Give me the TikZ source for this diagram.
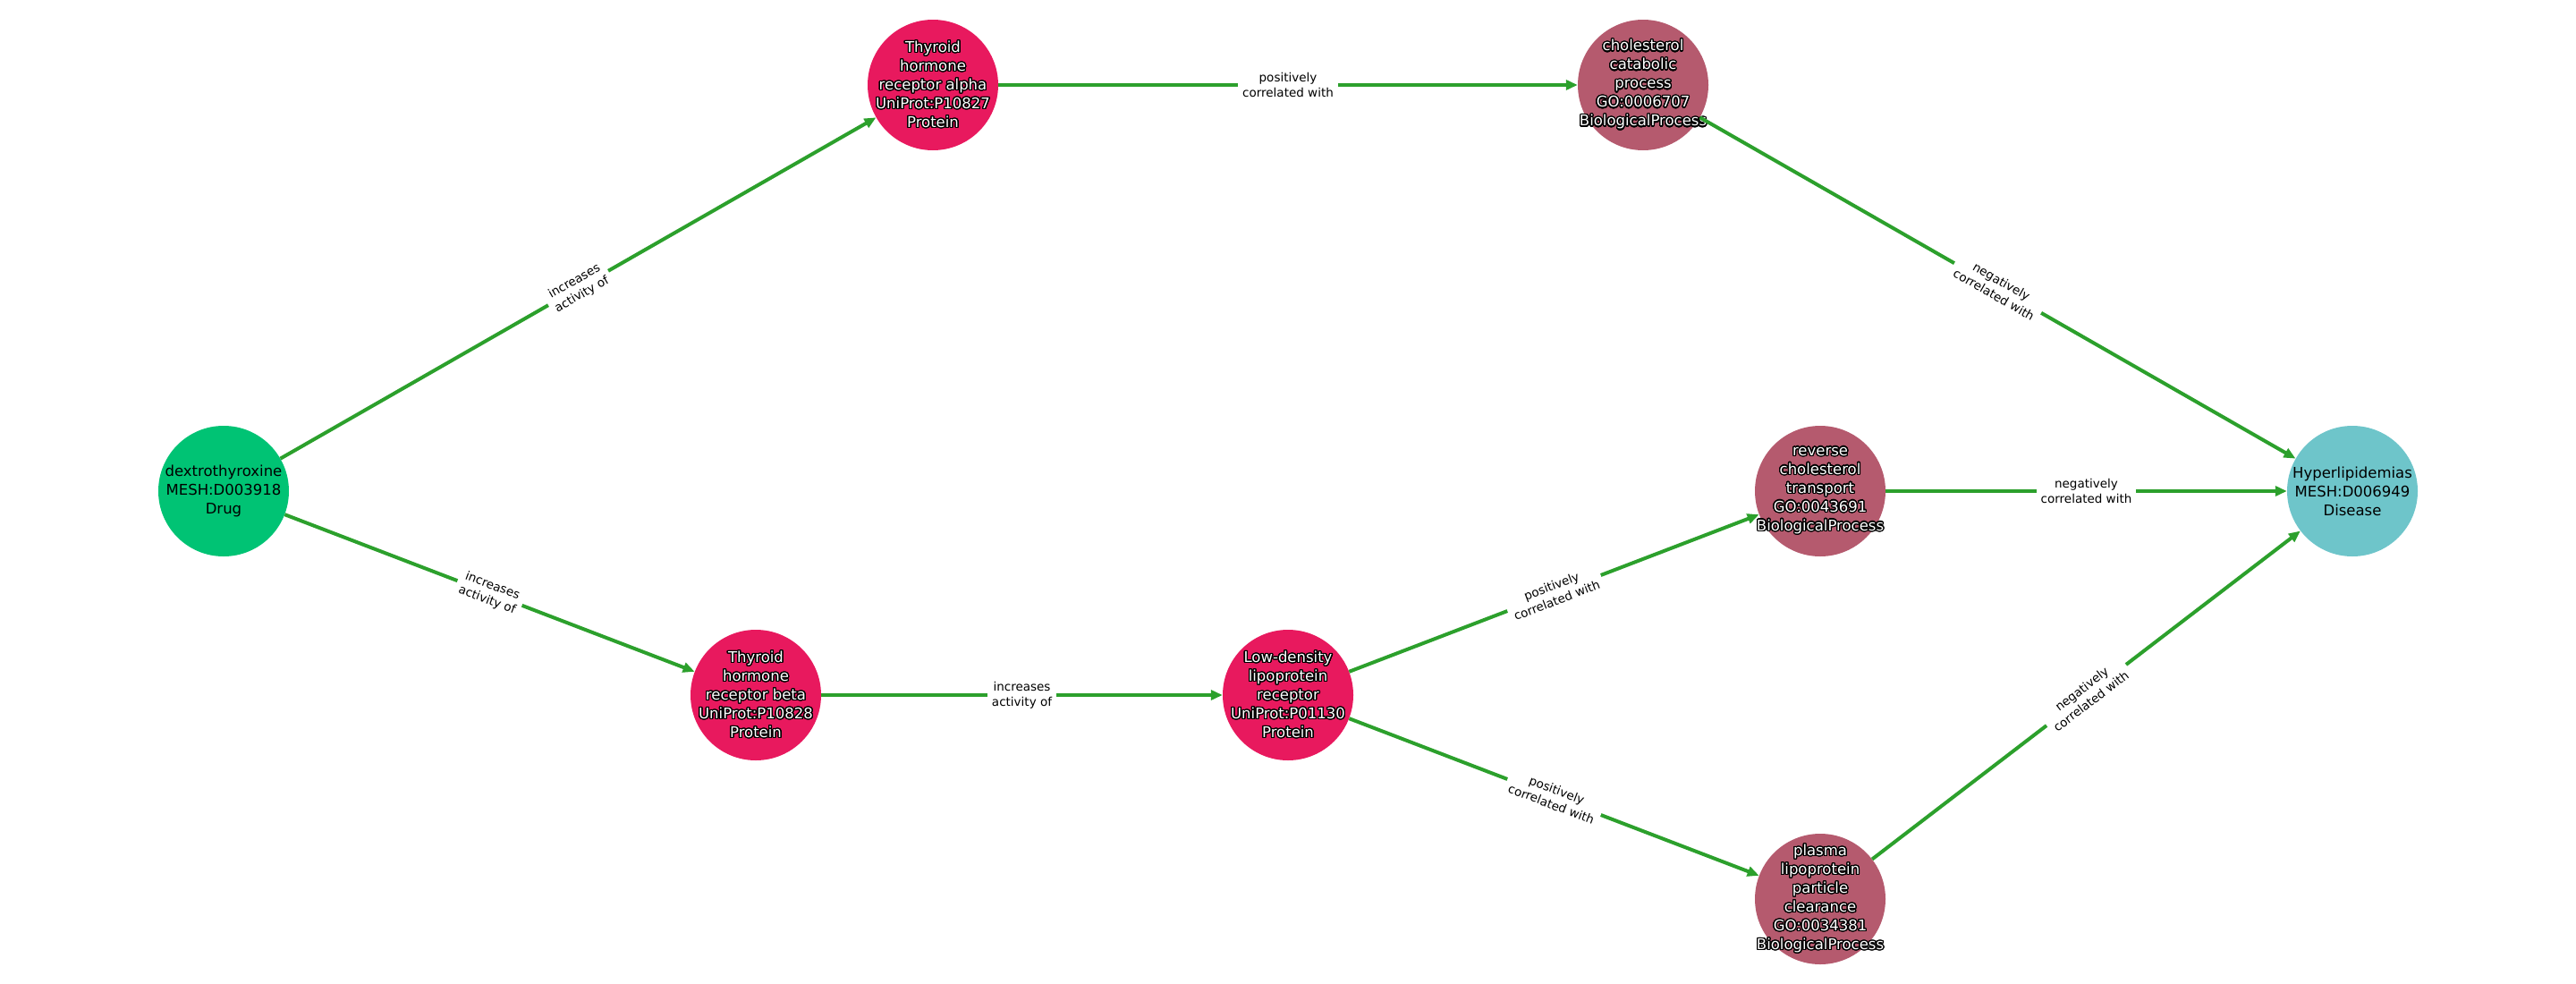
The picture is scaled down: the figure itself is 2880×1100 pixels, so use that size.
\documentclass[tikz,border=0pt]{standalone}
\usepackage{fontspec}
\setmainfont{DejaVu Sans}
\usepackage{contour}
\contourlength{1.3pt}
\contournumber{24}
\usetikzlibrary{arrows.meta}
\definecolor{drugc}{HTML}{00C374}
\definecolor{protc}{HTML}{E8195E}
\definecolor{bioc}{HTML}{B55A6E}
\definecolor{disc}{HTML}{6EC5CA}
\definecolor{edgec}{HTML}{2CA02C}
\newcommand{\olt}[1]{\contour{black}{#1}}
\begin{document}
\begin{tikzpicture}[x=1pt,y=-1pt,
  base/.style={circle, minimum size=146pt, inner sep=0pt},
  ntext/.style={align=center, inner sep=0pt, font=\fontsize{16.5}{21}\selectfont},
  drugnode/.style={base, fill=drugc, label={[ntext, text=black]center:#1}},
  protnode/.style={base, fill=protc, label={[ntext, text=white]center:#1}},
  bionode/.style={base, fill=bioc, label={[ntext, text=white]center:#1}},
  disnode/.style={base, fill=disc, label={[ntext, text=black]center:#1}},
  edge/.style={draw=edgec, line width=4pt, -{Triangle[length=13pt,width=11pt]}},
  lbl/.style={midway, sloped, fill=white, inner xsep=5pt, inner ysep=2pt, align=center, text=black, font=\fontsize{13.5}{17}\selectfont}
]
\useasboundingbox (0,0) rectangle (2880,1100);

\node[drugnode={dextrothyroxine\\MESH:D003918\\Drug}] (dex) at (250,549) {};
\node[protnode={\olt{Thyroid}\\\olt{hormone}\\\olt{receptor alpha}\\\olt{UniProt:P10827}\\\olt{Protein}}] (tra) at (1043,95) {};
\node[protnode={\olt{Thyroid}\\\olt{hormone}\\\olt{receptor beta}\\\olt{UniProt:P10828}\\\olt{Protein}}] (trb) at (845,777) {};
\node[protnode={\olt{Low-density}\\\olt{lipoprotein}\\\olt{receptor}\\\olt{UniProt:P01130}\\\olt{Protein}}] (ldl) at (1440,777) {};
\node[bionode={\olt{cholesterol}\\\olt{catabolic}\\\olt{process}\\\olt{GO:0006707}\\\olt{BiologicalProcess}}] (ccp) at (1837,95) {};
\node[bionode={\olt{reverse}\\\olt{cholesterol}\\\olt{transport}\\\olt{GO:0043691}\\\olt{BiologicalProcess}}] (rct) at (2035,549) {};
\node[bionode={\olt{plasma}\\\olt{lipoprotein}\\\olt{particle}\\\olt{clearance}\\\olt{GO:0034381}\\\olt{BiologicalProcess}}] (plc) at (2035,1005) {};
\node[disnode={Hyperlipidemias\\MESH:D006949\\Disease}] (hyp) at (2630,549) {};

\draw[edge] (dex) -- node[lbl]{increases\\activity of} (tra);
\draw[edge] (dex) -- node[lbl]{increases\\activity of} (trb);
\draw[edge] (tra) -- node[lbl]{positively\\correlated with} (ccp);
\draw[edge] (trb) -- node[lbl]{increases\\activity of} (ldl);
\draw[edge] (ldl) -- node[lbl]{positively\\correlated with} (rct);
\draw[edge] (ldl) -- node[lbl]{positively\\correlated with} (plc);
\draw[edge] (ccp) -- node[lbl]{negatively\\correlated with} (hyp);
\draw[edge] (rct) -- node[lbl]{negatively\\correlated with} (hyp);
\draw[edge] (plc) -- node[lbl]{negatively\\correlated with} (hyp);
\end{tikzpicture}
\end{document}
